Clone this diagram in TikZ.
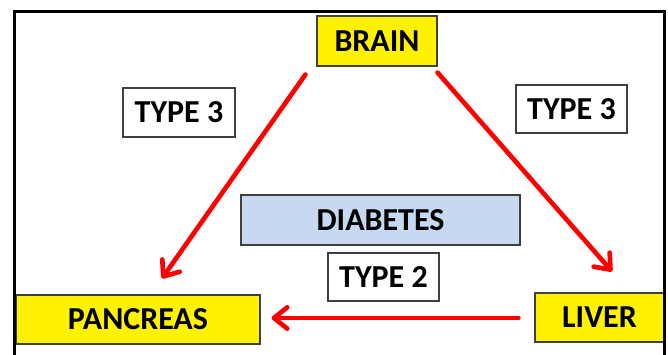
\documentclass[tikz,border=0pt]{standalone}
\usepackage{fontspec}
\setmainfont{Carlito}
\usetikzlibrary{positioning, arrows.meta, calc}
\definecolor{boxblue}{RGB}{198,217,241}
\definecolor{boxedge}{RGB}{64,64,64}

\begin{document}
\begin{tikzpicture}[x=0.75pt, y=-0.75pt,
        >={Straight Barb[length=10pt, width=16pt, line cap=round, line join=round]},
        every node/.style={font=\fontsize{24}{28}\selectfont\bfseries},
        organ/.style={draw=boxedge, line width=0.9pt, fill=yellow, inner sep=0pt},
        typebox/.style={draw=boxedge, line width=0.9pt, fill=white, inner sep=0pt},
        link/.style={->, red, line width=3.5pt, line cap=round}]
      \useasboundingbox (0,0) rectangle (668,354);

      % Organs
      \node[organ, minimum width=90pt, minimum height=37.5pt] (brain) at (377,41) {BRAIN};
      \node[organ, minimum width=183pt, minimum height=36.75pt] (pancreas) at (138,319.5) {PANCREAS};
      \node[organ, minimum width=96.75pt, minimum height=36.75pt] (liver) at (599.5,317.5) {LIVER};

      % Centre label
      \node[draw=boxedge, line width=0.9pt, fill=boxblue, inner sep=0pt, minimum width=209.25pt, minimum height=37.5pt] (diabetes) at (380.5,220) {DIABETES};

      % Type labels
      \node[typebox, minimum width=84pt, minimum height=36.75pt] (typeL) at (179,112.5) {TYPE 3};
      \node[typebox, minimum width=83.25pt, minimum height=36pt] (typeR) at (571.5,109) {TYPE 3};
      \node[typebox, minimum width=83.25pt, minimum height=36pt] (typeB) at (383.5,277) {TYPE 2};

      % Links
      \draw[link] ($(brain.south west)+(-11,8)$) -- ($(pancreas.north)+(24,-16)$);
      \draw[link] ($(brain.south east)+(0,6)$) -- ($(liver.north)+(12.5,-21)$);
      \draw[link] ($(liver.west)+(-16,0.5)$) -- ($(liver.west -| pancreas.east)+(11,0.5)$);

      % Outer frame
      \draw[line width=2.25pt] (14,370) -- (14,11) -- (664,11) -- (664,370);
    \end{tikzpicture}
\end{document}
